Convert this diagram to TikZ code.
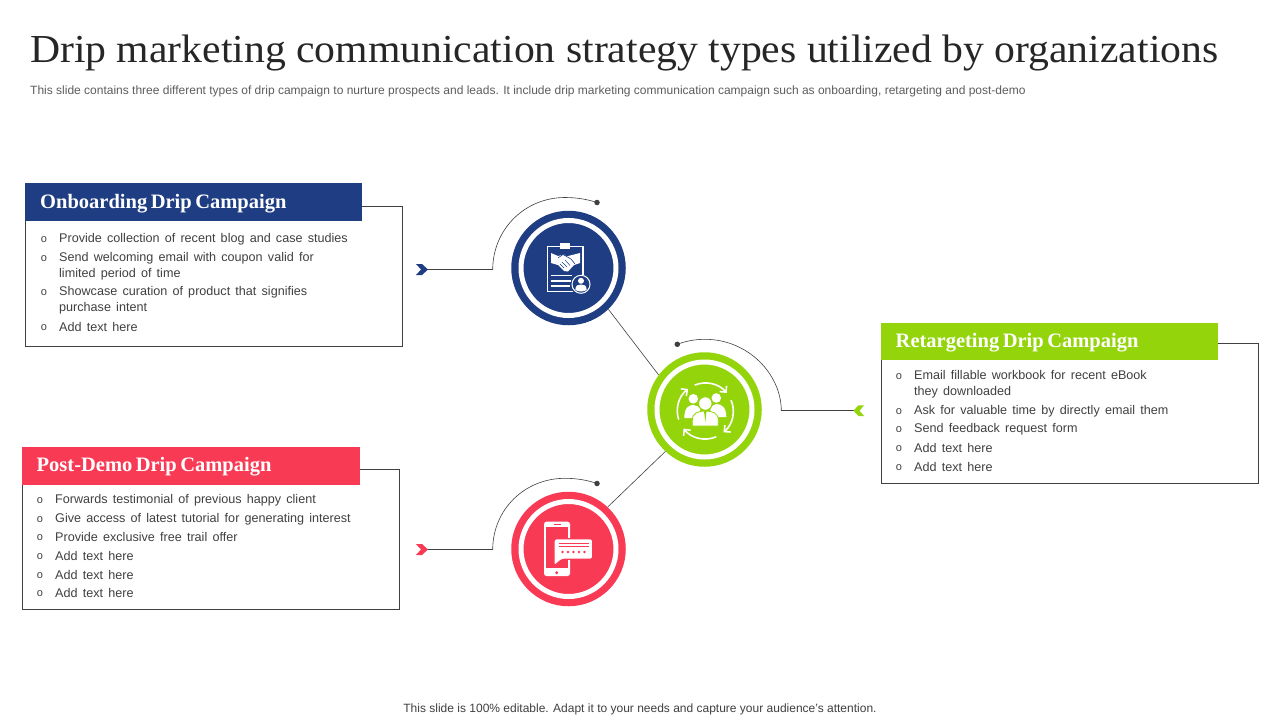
\documentclass[tikz,border=0pt]{standalone}
\usepackage{fontspec}
\usetikzlibrary{arrows.meta}
\setmainfont{Liberation Sans}
\newfontfamily\ttlfont{Liberation Serif}
\newfontfamily\ttlwide[FakeStretch=1.05]{Liberation Serif}
\definecolor{cblue}{HTML}{1F3D82}
\definecolor{cgreen}{HTML}{94D40B}
\definecolor{cred}{HTML}{F93A55}
\definecolor{ctext}{HTML}{404040}
\definecolor{cline}{HTML}{404040}
\newcommand{\fs}[1]{\fontsize{#1}{#1}\selectfont}
\newcommand{\itemfont}{\fontsize{12.6}{16.2}\selectfont\spaceskip 5.2pt\relax}
\newcommand{\headfont}{\ttlfont\bfseries\fs{20.5}\spaceskip 3.5pt\relax}
\tikzset{
 x=1pt,y=-1pt,
 itemtext/.style={anchor=west,inner sep=0pt,align=left,text=ctext,yshift=-0.6pt,font=\itemfont},
 bul/.style={anchor=center,inner sep=0pt,text=ctext,yshift=-0.5pt,font=\fs{11}},
 header/.style={anchor=north west,inner sep=0pt,minimum height=37.5pt,minimum width=337pt},
 headtext/.style={anchor=west,inner sep=0pt,text=white,yshift=-1.5pt,font=\headfont},
 frame/.style={draw=cline,line width=0.8pt},
 conn/.style={draw=cline,line width=0.8pt},
 thin conn/.style={draw=cline,line width=0.6pt},
 disc/.style={circle,minimum size=114.5pt,inner sep=0pt},
 ringmark/.style={draw=white,line width=5pt,fill=none},
 pin/.style={circle,fill=cline,minimum size=5.5pt,inner sep=0pt},
 icl/.style={draw=white,line width=1.2pt},
 turn/.style={draw=white,line width=1.6pt,-{Straight Barb[length=4.5pt,width=9pt]}},
}
\begin{document}
\begin{tikzpicture}
\useasboundingbox (0,0) rectangle (1280,720);
\fill[white] (0,0) rectangle (1280,720);
% titles
\node[anchor=west,inner sep=0pt,text=black!85,font=\ttlwide\fs{39.7}] (title) at (30,53) {Drip marketing communication strategy types utilized by organizations};
\node[anchor=west,inner sep=0pt,text=ctext!85,font=\fs{12}] (sub) at (30,91.5) {This slide contains three different types of drip campaign to nurture prospects and leads. It include drip marketing communication campaign such as onboarding, retargeting and post-demo};
\node[anchor=center,inner sep=0pt,text=ctext,font=\fs{12}] (foot) at (640,709.5) {This slide is 100\% editable. Adapt it to your needs and capture your audience's attention.};

% connectors between the discs (drawn first)
\node[disc,fill=cblue] (d1) at (568.5,268) {};
\node[disc,fill=cgreen] (d2) at (704.5,409.5) {};
\node[disc,fill=cred] (d3) at (568.5,549) {};
\draw[thin conn] (d1.-46) -- (d2.143);
\draw[thin conn] (d3.47) -- (d2.227);
\draw[ringmark] (568.5,268) circle (47.5);
\draw[ringmark] (704.5,409.5) circle (47.5);
\draw[ringmark] (568.5,549) circle (47.5);

% box 1
\draw[frame] (362,206.5) -- (402.5,206.5) -- (402.5,346.5) -- (25.5,346.5) -- (25.5,221);
\node[header,fill=cblue] (h1) at (25,183) {};
\node[headtext] (ht1) at (40,202) {Onboarding Drip Campaign};
\node[bul] (b11) at (44,239.5) {o}; \node[itemtext] (t11) at (59,238.5) {Provide collection of recent blog and case studies};
\node[bul] (b12) at (44,258.5) {o}; \node[itemtext] (t12) at (59,265.5) {Send welcoming email with coupon valid for\\limited period of time};
\node[bul] (b13) at (44,292.5) {o}; \node[itemtext] (t13) at (59,299.5) {Showcase curation of product that signifies\\purchase intent};
\node[bul] (b14) at (44,327.5) {o}; \node[itemtext] (t14) at (59,326.5) {Add text here};

% box 2
\draw[frame] (1218,343.5) -- (1258.5,343.5) -- (1258.5,483.5) -- (881.5,483.5) -- (881.5,360);
\node[header,fill=cgreen] (h2) at (881,322.7) {};
\node[headtext] (ht2) at (895.5,341.5) {Retargeting Drip Campaign};
\node[bul] (b21) at (899,376.5) {o}; \node[itemtext] (t21) at (914,383.5) {Email fillable workbook for recent eBook\\they downloaded};
\node[bul] (b22) at (899,411.5) {o}; \node[itemtext] (t22) at (914,410.5) {Ask for valuable time by directly email them};
\node[bul] (b23) at (899,429.5) {o}; \node[itemtext] (t23) at (914,428.5) {Send feedback request form};
\node[bul] (b24) at (899,448.5) {o}; \node[itemtext] (t24) at (914,447.5) {Add text here};
\node[bul] (b25) at (899,467.5) {o}; \node[itemtext] (t25) at (914,466.5) {Add text here};

% box 3
\draw[frame] (360,469.5) -- (399.5,469.5) -- (399.5,609.5) -- (22.5,609.5) -- (22.5,484);
\node[header,fill=cred,minimum width=338pt] (h3) at (22,446.8) {};
\node[headtext] (ht3) at (36.5,465) {Post-Demo Drip Campaign};
\node[bul] (b31) at (40,500.5) {o}; \node[itemtext] (t31) at (55,499.5) {Forwards testimonial of previous happy client};
\node[bul] (b32) at (40,519.5) {o}; \node[itemtext] (t32) at (55,518.5) {Give access of latest tutorial for generating interest};
\node[bul] (b33) at (40,537.5) {o}; \node[itemtext] (t33) at (55,536.5) {Provide exclusive free trail offer};
\node[bul] (b34) at (40,556.5) {o}; \node[itemtext] (t34) at (55,555.5) {Add text here};
\node[bul] (b35) at (40,575.5) {o}; \node[itemtext] (t35) at (55,574.5) {Add text here};
\node[bul] (b36) at (40,593.5) {o}; \node[itemtext] (t36) at (55,592.5) {Add text here};

% leaders
\coordinate (e1) at (492.7,269.3);
\coordinate (e2) at (781.3,410.3);
\coordinate (e3) at (492.7,549.3);
\node[pin] (p1) at (597,202.5) {};
\node[pin] (p2) at (677.3,344.3) {};
\node[pin] (p3) at (597,483.5) {};
\coordinate (c1) at (426,269.3);
\coordinate (c2) at (856,410.3);
\coordinate (c3) at (426,549.3);
\draw[conn] (c1) -- (e1);
\draw[conn] (c2) -- (e2);
\draw[conn] (c3) -- (e3);
\draw[thin conn] (e1) .. controls (493,229) and (525,197.5) .. (565,197.5) .. controls (577,197.5) and (588,199.5) .. (p1.center);
\draw[thin conn] (e3) .. controls (493,509) and (525,478.3) .. (565,478.3) .. controls (577,478.3) and (588,480.3) .. (p3.center);
\draw[thin conn] (e2) .. controls (781,374) and (748,339.3) .. (705,339.3) .. controls (695,339.3) and (686,341) .. (p2.center);
% chevrons
\fill[cblue] (416,264) -- (422,264) -- (428,269.5) -- (422,275) -- (416,275) -- (421,269.5) -- cycle;
\fill[cred] (416,544) -- (422,544) -- (428,549.5) -- (422,555) -- (416,555) -- (421,549.5) -- cycle;
\fill[cgreen] (864,405.3) -- (858.5,405.3) -- (853.5,410.7) -- (858.5,416) -- (864,416) -- (859.5,410.7) -- cycle;

% icon 1: clipboard with handshake
\draw[icl] (560,246.5) -- (547.5,246.5) -- (547.5,291.5) -- (573,291.5);
\draw[icl] (570,246.5) -- (583,246.5) -- (583,275);
\fill[white] (560,242.7) rectangle (570,249);
\fill[white] (551,253) -- (558,256) -- (564,254.5) -- (566,256.5) -- (572,255) -- (580,253) -- (580,263) -- (574,265) -- (568,271.5) -- (564,271) -- (558,265) -- (551,263) -- cycle;
\draw[cblue,line width=0.6pt] (558,258) -- (563,254.5) -- (571,259) -- (575,264);
\draw[cblue,line width=0.5pt] (562,262) -- (567,267) (565,260) -- (570,265.5) (560,264) -- (564,268);
\draw[white,line width=1.4pt] (550.7,275.7) -- (571.7,275.7) (550.7,281) -- (571,281) (550.7,286) -- (570,286);
\draw[white,line width=1pt,fill=cblue] (581,284.3) circle (9);
\fill[white] (581,280.8) circle (3);
\fill[white] (575.3,290) .. controls (575.5,285) and (578,284.5) .. (581,284.5) .. controls (584,284.5) and (586.5,285) .. (586.7,290) .. controls (583,292) and (579,292) .. (575.3,290) -- cycle;

% icon 2: team with circular arrows
\begin{scope}[shift={(705.3,411)}]
 \fill[white] (-12,-12.2) circle (4.8);
 \fill[white] (11,-13) circle (4.8);
 \fill[white] (-21,7) .. controls (-21,-4) and (-16,-6) .. (-12,-6) .. controls (-9,-6) and (-6,-4) .. (-5,-2) -- (-6,7) -- cycle;
 \fill[white] (21,6) .. controls (21,-4) and (16,-7) .. (11,-7) .. controls (8,-7) and (6,-4) .. (5,-2) -- (6,6) -- cycle;
 \draw[cgreen,line width=1pt,fill=white] (0,-7.5) circle (6.8);
 \draw[cgreen,line width=0.8pt,fill=white] (-13,15) -- (-13,9) .. controls (-13,2) and (-7,0) .. (0,0) .. controls (7,0) and (13,2) .. (13,9) -- (13,15) -- cycle;
 \fill[cgreen] (-1.3,0) -- (1.3,0) -- (0,11) -- cycle;
 \draw[turn] (247.8:28) arc (247.8:320:28);
 \draw[turn] (-23:28) arc (-23:49.5:28);
 \draw[turn] (67:28) arc (67:141:28);
 \draw[turn] (162:28) arc (162:232:28);
\end{scope}

% icon 3: phone with review bubble
\fill[white,rounded corners=2.5pt] (544,521.7) rectangle (570,576);
\fill[cred] (546,526.7) rectangle (568,568.3);
\draw[cred,line width=0.7pt] (553.5,524.5) -- (560.5,524.5);
\fill[cred] (556.7,572.7) circle (1.6);
\draw[cred,line width=1.2pt,fill=white,rounded corners=2.5pt] (554,538.7) -- (592.7,538.7) -- (592.7,559.3) -- (562,559.3) -- (554,566) -- cycle;
\draw[cred,line width=0.6pt] (558.5,543) -- (589,543) (558.5,546) -- (589,546);
\foreach \sx in {562.5,568,573.5,579,584.5} \fill[cred] (\sx,552) circle (1.4);
\end{tikzpicture}
\end{document}
